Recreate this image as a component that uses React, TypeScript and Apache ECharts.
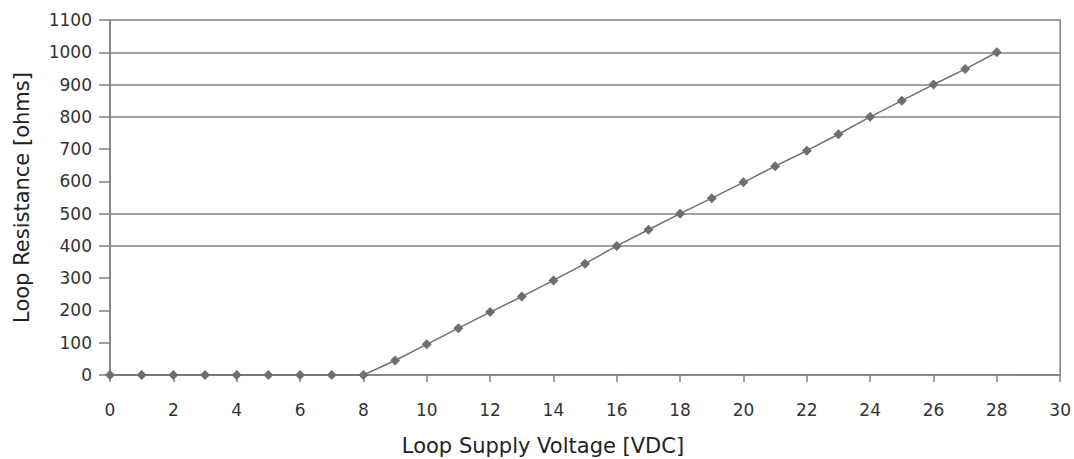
import React, { useEffect, useRef } from "react";
import * as echarts from "echarts";

const voltage = [0, 1, 2, 3, 4, 5, 6, 7, 8, 9, 10, 11, 12, 13, 14, 15, 16, 17, 18, 19, 20, 21, 22, 23, 24, 25, 26, 27, 28];
const resistance = [0, 0, 0, 0, 0, 0, 0, 0, 0, 45, 95, 145, 195, 243, 293, 345, 400, 450, 500, 548, 597, 647, 695, 746, 800, 850, 900, 948, 1000];
const gridValues = [400, 500, 800, 900, 1000];
const xTitle = "Loop Supply Voltage [VDC]";
const yTitle = "Loop Resistance [ohms]";

const FONT = "'DejaVu Sans', sans-serif";

export default function App() {
  const ref = useRef<HTMLDivElement>(null);
  useEffect(() => {
    document.body.style.margin = "0";
    const chart = echarts.init(ref.current!, null, { renderer: "svg" });
    chart.setOption({
      animation: false,
      backgroundColor: "#ffffff",
      grid: {
        left: 110,
        right: 11,
        top: 20,
        bottom: 84,
        show: true,
        borderColor: "#808080",
        borderWidth: 1.5,
      },
      xAxis: {
        type: "value",
        min: 0,
        max: 30,
        interval: 2,
        axisLine: { show: true, lineStyle: { color: "#808080", width: 1.5 } },
        axisTick: { show: true, length: 7, lineStyle: { color: "#808080", width: 1.5 } },
        axisLabel: { color: "#333333", fontSize: 17, fontFamily: FONT, margin: 26, formatter: (v: number) => String(v) },
        splitLine: { show: false },
      },
      yAxis: {
        type: "value",
        min: 0,
        max: 1100,
        interval: 100,
        name: yTitle,
        nameLocation: "middle",
        nameGap: 78,
        nameTextStyle: { color: "#222222", fontSize: 21, fontFamily: FONT },
        axisLine: { show: true, lineStyle: { color: "#808080", width: 1.5 } },
        axisTick: { show: true, length: 11, inside: false, lineStyle: { color: "#808080", width: 1.5 } },
        axisLabel: { color: "#333333", fontSize: 17, fontFamily: FONT, margin: 18, formatter: (v: number) => String(v) },
        splitLine: { show: false },
      },
      graphic: [
        {
          type: "text",
          x: 543,
          y: 446,
          style: { text: xTitle, fill: "#222222", fontSize: 21, fontFamily: FONT, align: "center", verticalAlign: "middle" },
        },
      ],
      series: [
        {
          type: "line",
          data: voltage.map((v, i) => [v, resistance[i]]),
          symbol: "diamond",
          symbolSize: 10,
          itemStyle: { color: "#6e6e6e" },
          lineStyle: { color: "#707070", width: 1.5 },
          z: 3,
          markLine: {
            silent: true,
            symbol: ["none", "none"],
            label: { show: false },
            lineStyle: { color: "#808080", width: 1.5, type: "solid" },
            data: gridValues.map((v) => ({ yAxis: v })),
            z: 1,
          },
        },
      ],
    });
    return () => chart.dispose();
  }, []);
  return <div ref={ref} style={{ width: 1074, height: 459 }} />;
}
